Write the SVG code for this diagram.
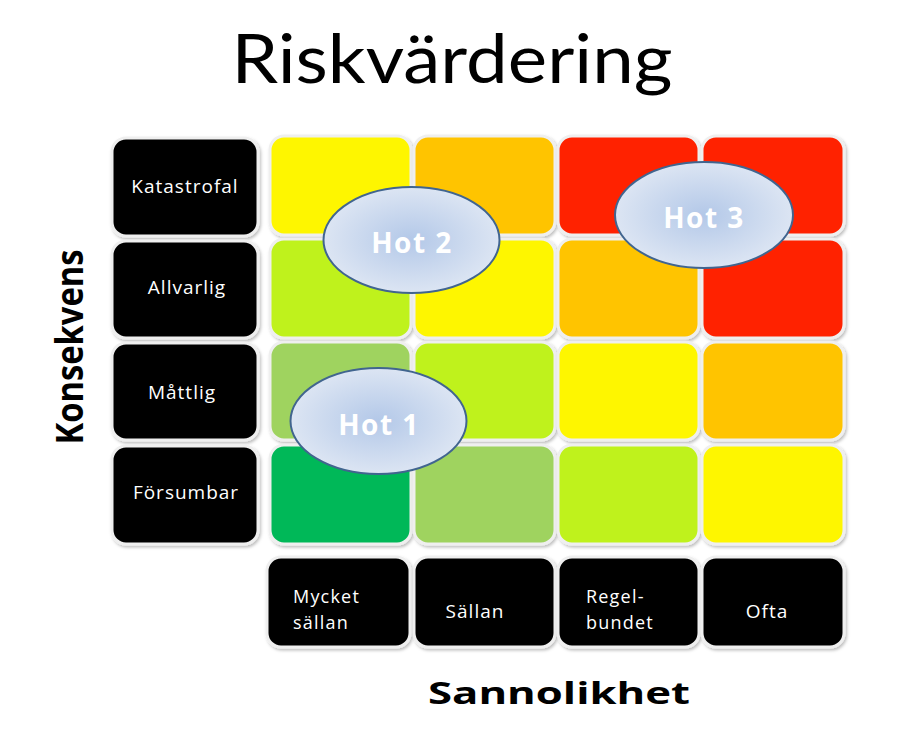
<svg xmlns="http://www.w3.org/2000/svg" width="911" height="733" viewBox="0 0 911 733">
<defs>
<radialGradient id="hotg" cx="0.5" cy="0.5" r="0.5">
<stop offset="0" stop-color="#b3c8e8"/>
<stop offset="1" stop-color="#dce5f3"/>
</radialGradient>
<filter id="sh" x="-10%" y="-10%" width="125%" height="125%">
<feDropShadow dx="1.5" dy="2" stdDeviation="1.5" flood-color="#000" flood-opacity="0.25"/>
</filter>
</defs>
<style>
.cell{stroke:#efefef;stroke-width:3;filter:url(#sh)}
.lbl{fill:#000;stroke:#efefef;stroke-width:3;filter:url(#sh)}
.lt{fill:#fff;font-family:"Open Sans","DejaVu Sans",sans-serif;font-size:19px;letter-spacing:1px}
.lt2{fill:#fff;font-family:"Open Sans","DejaVu Sans",sans-serif;font-size:18px;letter-spacing:1.2px}
.hot{fill:url(#hotg);stroke:#41658f;stroke-width:2}
.ht{fill:#fff;font-family:"Open Sans","DejaVu Sans",sans-serif;font-size:28px;font-weight:bold;letter-spacing:1.5px;text-anchor:middle}
.y{fill:#fef600}.o{fill:#ffc400}.r{fill:#ff2300}.l{fill:#bff21c}.lg{fill:#9fd35f}.g{fill:#00b858}
</style>
<rect width="911" height="733" fill="#fff"/>
<text x="452" y="83" font-family="Lato,'DejaVu Sans',sans-serif" font-size="68" text-anchor="middle" textLength="441" lengthAdjust="spacingAndGlyphs" fill="#000">Riskvärdering</text>
<text transform="translate(83,347) rotate(-90)" font-family="'Open Sans','DejaVu Sans',sans-serif" font-weight="bold" font-size="38" text-anchor="middle" textLength="195" lengthAdjust="spacingAndGlyphs" fill="#000">Konsekvens</text>
<text x="559" y="704" font-family="'Open Sans','DejaVu Sans',sans-serif" font-weight="bold" font-size="31" text-anchor="middle" textLength="262" lengthAdjust="spacingAndGlyphs" fill="#000">Sannolikhet</text>
<g id="cells">
<rect class="cell y" x="270" y="136" width="141" height="99" rx="14"/>
<rect class="cell o" x="414" y="136" width="141" height="99" rx="14"/>
<rect class="cell r" x="558" y="136" width="141" height="99" rx="14"/>
<rect class="cell r" x="702" y="136" width="142" height="99" rx="14"/>
<rect class="cell l" x="270" y="239" width="141" height="99" rx="14"/>
<rect class="cell y" x="414" y="239" width="141" height="99" rx="14"/>
<rect class="cell o" x="558" y="239" width="141" height="99" rx="14"/>
<rect class="cell r" x="702" y="239" width="142" height="99" rx="14"/>
<rect class="cell lg" x="270" y="342" width="141" height="98" rx="14"/>
<rect class="cell l" x="414" y="342" width="141" height="98" rx="14"/>
<rect class="cell y" x="558" y="342" width="141" height="98" rx="14"/>
<rect class="cell o" x="702" y="342" width="142" height="98" rx="14"/>
<rect class="cell g" x="270" y="445" width="141" height="99" rx="14"/>
<rect class="cell lg" x="414" y="445" width="141" height="99" rx="14"/>
<rect class="cell l" x="558" y="445" width="141" height="99" rx="14"/>
<rect class="cell y" x="702" y="445" width="142" height="99" rx="14"/>
</g>
<g id="katastrofal"><rect class="lbl" x="112" y="138" width="146" height="98" rx="14"/><text class="lt" x="185" y="193" text-anchor="middle">Katastrofal</text></g>
<g id="allvarlig"><rect class="lbl" x="112" y="241" width="146" height="97" rx="14"/><text class="lt" x="187" y="294" text-anchor="middle">Allvarlig</text></g>
<g id="mattlig"><rect class="lbl" x="112" y="343" width="146" height="97" rx="14"/><text class="lt" x="182" y="399" text-anchor="middle">Måttlig</text></g>
<g id="forsumbar"><rect class="lbl" x="112" y="446" width="146" height="98" rx="14"/><text class="lt" x="186" y="499" text-anchor="middle">Försumbar</text></g>
<g id="mycket-sallan"><rect class="lbl" x="267" y="557" width="143" height="90" rx="14"/><text class="lt2" x="293" y="603">Mycket</text><text class="lt2" x="293" y="629">sällan</text></g>
<g id="sallan"><rect class="lbl" x="414" y="557" width="141" height="90" rx="14"/><text class="lt" x="475" y="618" text-anchor="middle">Sällan</text></g>
<g id="regelbundet"><rect class="lbl" x="558" y="557" width="141" height="90" rx="14"/><text class="lt2" x="586" y="603">Regel-</text><text class="lt2" x="586" y="629">bundet</text></g>
<g id="ofta"><rect class="lbl" x="702" y="557" width="142" height="90" rx="14"/><text class="lt" x="767" y="618" text-anchor="middle">Ofta</text></g>
<g id="hot2"><ellipse class="hot" cx="411.5" cy="240" rx="88" ry="53"/><text class="ht" x="412" y="253">Hot 2</text></g>
<g id="hot3"><ellipse class="hot" cx="704" cy="215" rx="89" ry="53"/><text class="ht" x="704" y="228">Hot 3</text></g>
<g id="hot1"><ellipse class="hot" cx="378.5" cy="421" rx="88" ry="53"/><text class="ht" x="379" y="435">Hot 1</text></g>
</svg>
